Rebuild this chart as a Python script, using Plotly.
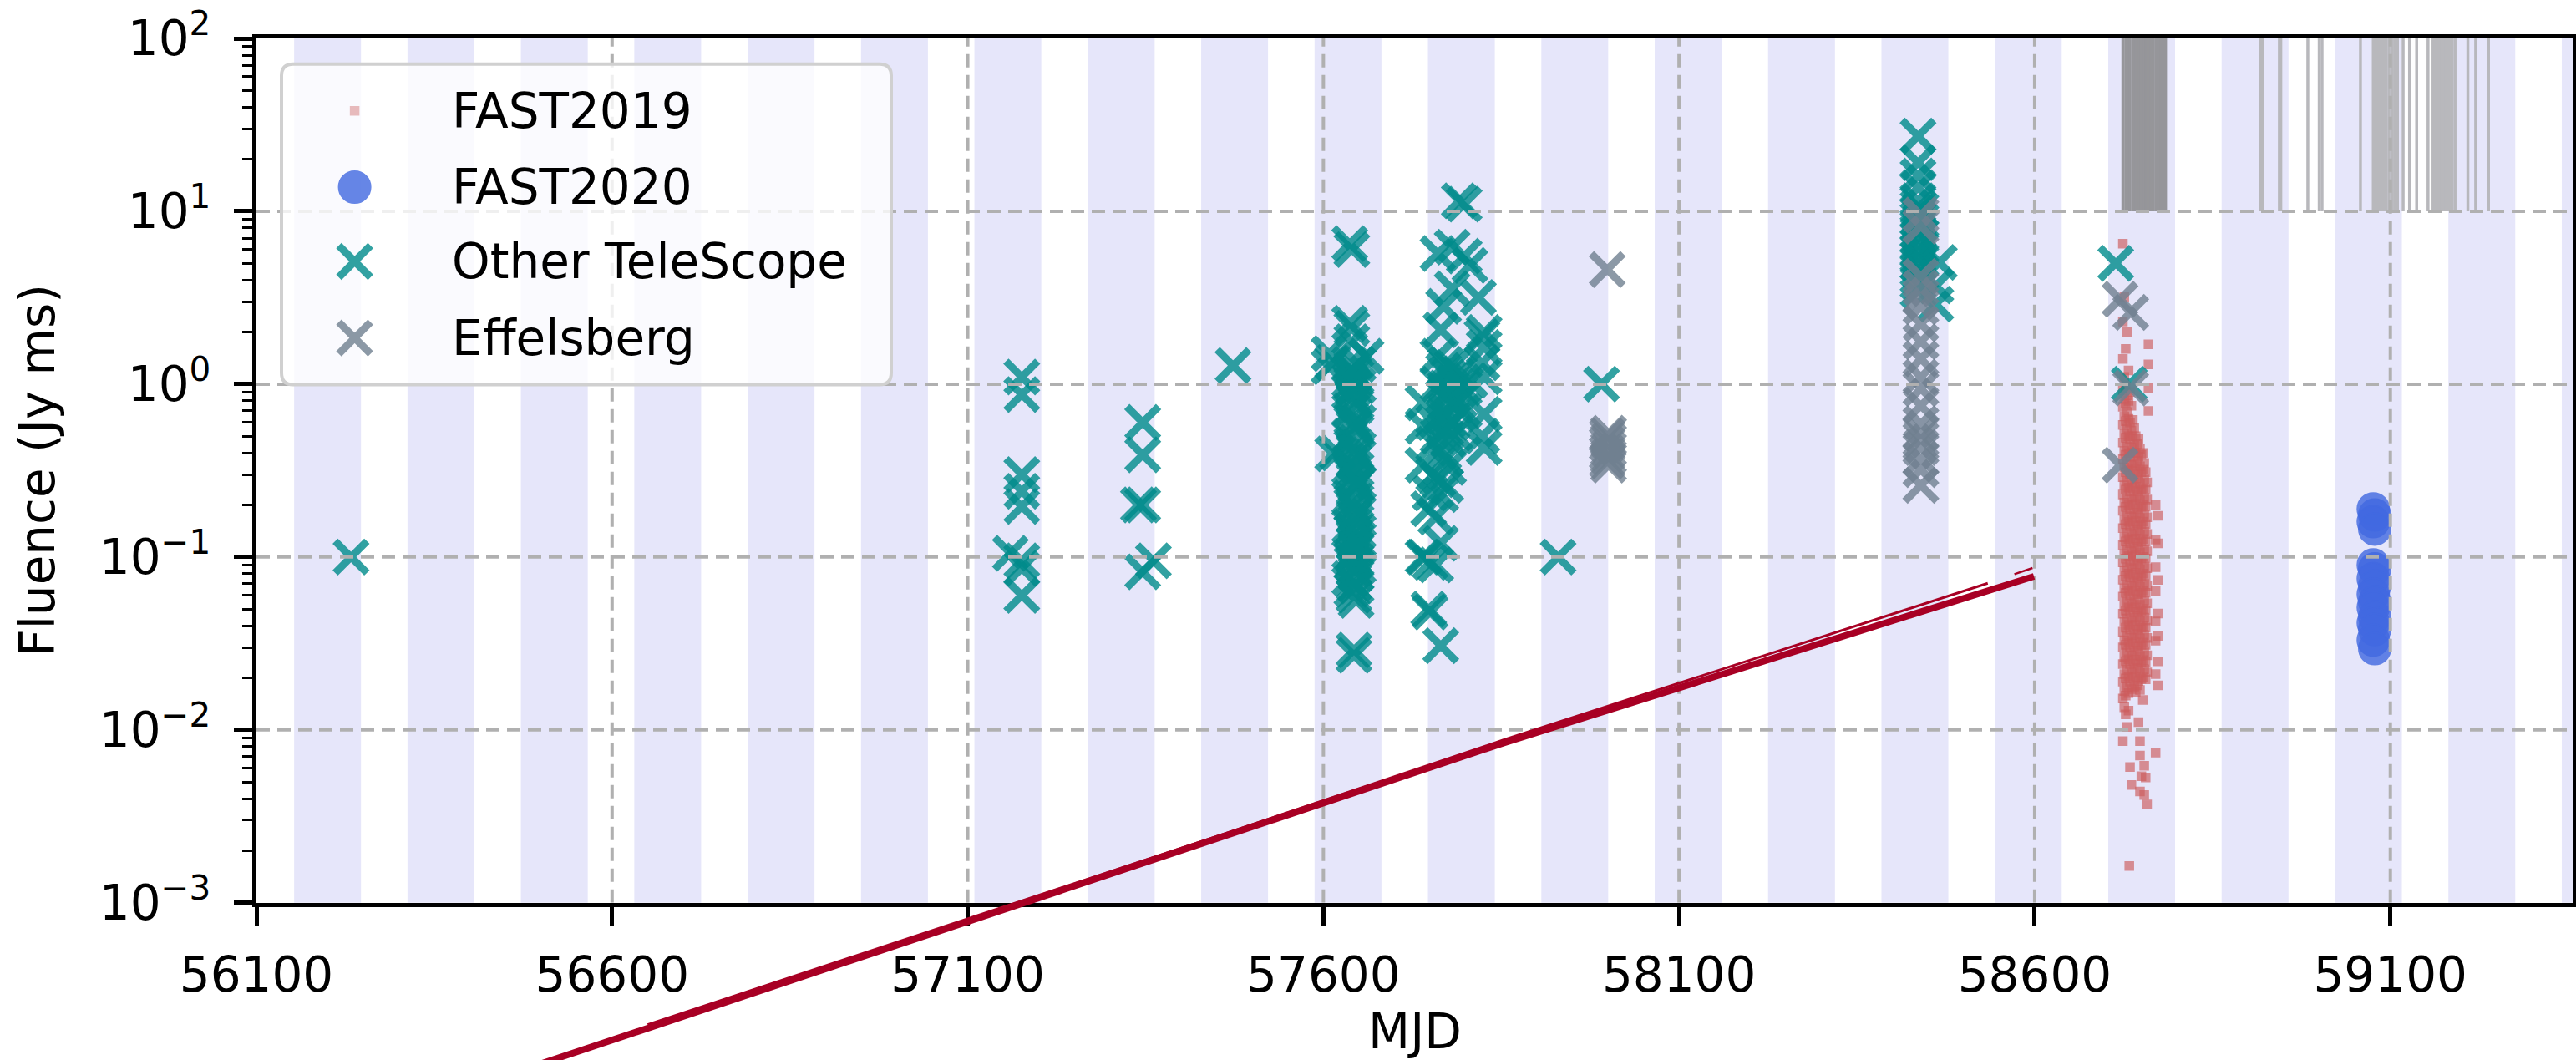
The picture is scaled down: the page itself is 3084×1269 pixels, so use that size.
import plotly.graph_objects as go

# ------------------------------------------------------------------ data
x_tick_values = [56100, 56600, 57100, 57600, 58100, 58600, 59100]
y_tick_exponents = [-3, -2, -1, 0, 1, 2]
mjd_min, mjd_max = 56100, 59357.5

# periodic activity windows (shaded)
window_first_start = 56153.0
window_period = 159.4
window_length = 94.0

# FAST 2019 bursts, grouped per day
fast2019_days = [58724, 58726, 58728, 58730, 58732, 58733, 58734, 58736, 58738, 58740,
                 58742, 58744, 58746, 58748, 58750, 58752, 58754, 58756, 58758, 58760,
                 58770, 58773]
fast2019_fluence_by_day = [
    [6.5, 2.3, 1.4, 0.92, 0.74, 0.58, 0.46, 0.37, 0.29, 0.23, 0.185, 0.147, 0.117, 0.093, 0.074, 0.059, 0.047, 0.037, 0.03, 0.024, 0.019, 0.0152, 0.0086],
    [3.2, 1.1, 0.82, 0.65, 0.52, 0.41, 0.33, 0.26, 0.206, 0.164, 0.13, 0.104, 0.083, 0.066, 0.052, 0.042, 0.033, 0.0265, 0.021, 0.0168, 0.0135],
    [1.6, 0.97, 0.77, 0.61, 0.49, 0.39, 0.31, 0.245, 0.195, 0.155, 0.123, 0.098, 0.078, 0.062, 0.049, 0.039, 0.031, 0.025, 0.0198, 0.0158, 0.0123],
    [2.0, 0.86, 0.69, 0.55, 0.435, 0.345, 0.275, 0.218, 0.173, 0.138, 0.11, 0.087, 0.069, 0.055, 0.044, 0.035, 0.028, 0.0222, 0.0177, 0.0104],
    [1.2, 0.8, 0.63, 0.5, 0.4, 0.32, 0.252, 0.2, 0.16, 0.127, 0.101, 0.08, 0.064, 0.051, 0.0405, 0.032, 0.0256, 0.0204, 0.0163, 0.0129],
    [0.00163],
    [0.9, 0.6, 0.48, 0.38, 0.3, 0.24, 0.19, 0.151, 0.12, 0.095, 0.076, 0.06, 0.048, 0.038, 0.03, 0.024, 0.019, 0.0061],
    [0.75, 0.54, 0.43, 0.34, 0.27, 0.215, 0.171, 0.136, 0.108, 0.086, 0.068, 0.054, 0.043, 0.034, 0.027, 0.0215, 0.0172, 0.0048],
    [0.62, 0.5, 0.4, 0.315, 0.25, 0.2, 0.158, 0.126, 0.1, 0.079, 0.063, 0.05, 0.04, 0.0315, 0.025, 0.02],
    [0.56, 0.44, 0.35, 0.28, 0.222, 0.177, 0.14, 0.112, 0.089, 0.071, 0.056, 0.0445, 0.0355, 0.028, 0.0225, 0.0178],
    [0.5, 0.4, 0.32, 0.255, 0.203, 0.161, 0.128, 0.102, 0.081, 0.064, 0.051, 0.0405, 0.032, 0.0255, 0.0203, 0.0165],
    [0.45, 0.36, 0.285, 0.227, 0.18, 0.143, 0.114, 0.091, 0.072, 0.057, 0.0455, 0.036, 0.0287, 0.0228, 0.0181],
    [0.48, 0.38, 0.3, 0.24, 0.19, 0.152, 0.121, 0.096, 0.076, 0.061, 0.048, 0.038, 0.0305, 0.0242, 0.0192, 0.0111],
    [0.42, 0.335, 0.266, 0.212, 0.168, 0.134, 0.106, 0.085, 0.067, 0.053, 0.0425, 0.0338, 0.0268, 0.0213, 0.017, 0.0086, 0.0071, 0.0044],
    [0.39, 0.31, 0.245, 0.195, 0.155, 0.123, 0.098, 0.078, 0.062, 0.049, 0.039, 0.031, 0.0248, 0.0197, 0.0054],
    [0.4, 0.32, 0.25, 0.2, 0.16, 0.127, 0.1, 0.08, 0.064, 0.05, 0.04, 0.032, 0.0253, 0.0201, 0.0149],
    [0.35, 0.28, 0.22, 0.176, 0.14, 0.111, 0.088, 0.07, 0.056, 0.0445, 0.0354, 0.0281, 0.0224, 0.0062, 0.0042],
    [0.31, 0.245, 0.195, 0.155, 0.123, 0.098, 0.078, 0.062, 0.049, 0.039, 0.031, 0.0247, 0.0196, 0.0053],
    [0.27, 0.215, 0.17, 0.136, 0.108, 0.086, 0.068, 0.054, 0.043, 0.034, 0.027, 0.0215, 0.0037],
    [1.7, 1.3, 0.95, 0.7],
    [0.2, 0.126, 0.0874, 0.0635, 0.0424, 0.0328, 0.021, 0.00738],
    [0.173, 0.12, 0.0737, 0.0471, 0.035, 0.0249, 0.0181],
]

# FAST 2020 bursts
fast2020_mjd = [59076, 59078, 59076, 59078, 59076, 59078, 59076, 59078,
                59076, 59078, 59076, 59078, 59076, 59078, 59076, 59078]
fast2020_fluence = [0.19, 0.175, 0.16, 0.145, 0.09, 0.0855, 0.075, 0.068,
                    0.061, 0.055, 0.051, 0.045, 0.0415, 0.038, 0.033, 0.0295]

# other telescopes, grouped per day
other_days = [56233, 57160, 57176, 57340, 57346, 57361, 57473,
              57608, 57613, 57620, 57637, 57640, 57643, 57646, 57649, 57660,
              57740, 57742, 57748, 57750, 57755, 57758, 57761, 57765, 57769, 57772,
              57776, 57781, 57785, 57791, 57798, 57806, 57818, 57823, 57826,
              57930, 57991, 58436, 58440, 58461, 58466, 58714, 58733]
other_fluence_by_day = [
    [0.1],
    [0.105],
    [1.1, 0.87, 0.3, 0.24, 0.196, 0.095, 0.086, 0.06],
    [0.2],
    [0.6, 0.39, 0.2, 0.082],
    [0.095],
    [1.28],
    [1.5, 1.26],
    [1.33, 0.395],
    [0.4],
    [6.5, 2.25, 1.3, 1.05, 0.9, 0.7, 0.5, 0.33, 0.22, 0.15, 0.1, 0.075],
    [6.0, 2.1, 1.76, 1.2, 1.0, 0.85, 0.62, 0.45, 0.3, 0.2, 0.14, 0.092, 0.065],
    [1.15, 0.95, 0.8, 0.58, 0.42, 0.36, 0.28, 0.25, 0.19, 0.17, 0.13, 0.12, 0.105, 0.085, 0.07, 0.06, 0.029, 0.027],
    [1.1, 0.75, 0.55, 0.4, 0.32, 0.26, 0.21, 0.16, 0.125, 0.11, 0.095, 0.08, 0.068, 0.056],
    [1.3, 0.98, 0.6, 0.38, 0.27, 0.18, 0.14, 0.115, 0.088],
    [1.45],
    [0.78, 0.57, 0.34, 0.1],
    [0.1],
    [0.19, 0.05],
    [0.234, 0.093, 0.048],
    [0.6, 0.45, 0.3],
    [0.17, 0.09],
    [5.7, 1.45, 1.0, 0.5, 0.28],
    [2.06, 0.23, 0.12, 0.0307],
    [2.82, 1.2, 0.85, 0.65, 0.4],
    [1.3, 0.95, 0.7, 0.55, 0.37, 0.26],
    [1.1, 0.8, 0.62, 0.48, 0.33],
    [6.2, 3.56, 1.25, 0.9, 0.6],
    [1.0, 0.75, 0.52],
    [11.5, 1.15, 0.8],
    [11.0, 5.5, 0.95, 0.7],
    [4.86, 1.05],
    [3.17],
    [1.88, 1.33, 0.5],
    [1.99, 1.63, 1.1, 0.67, 0.43],
    [0.1],
    [1.0],
    [27.2, 19.1, 16.0, 13.7, 11.5, 10.5, 9.8, 9.0, 8.3, 7.6, 7.0, 6.4, 5.9, 5.4, 5.0, 4.6, 4.2, 3.9, 3.5],
    [10.2, 8.8, 7.2, 6.0, 5.2, 4.4],
    [3.7, 2.9],
    [5.06],
    [5.0],
    [1.0],
]

# Effelsberg, grouped per day
effelsberg_days = [57999, 58001, 58440, 58720, 58735]
effelsberg_fluence_by_day = [
    [4.6, 0.5, 0.45, 0.4, 0.36],
    [0.52, 0.47, 0.42, 0.38, 0.34],
    [9.5, 8.2, 4.2, 3.6, 3.2, 2.8, 2.23, 1.76, 1.4, 1.1, 0.94, 0.75, 0.59, 0.52, 0.48, 0.43, 0.37, 0.32, 0.26],
    [3.1, 0.34],
    [2.6, 0.95],
]

# FAST observing days (vertical markers in the top decade)
fast2019_obs_days = [58724, 58728, 58732, 58734, 58738, 58740, 58741, 58742, 58743, 58744,
                     58745, 58746, 58747, 58748, 58749, 58750, 58751, 58752, 58753, 58754,
                     58755, 58756, 58757, 58758, 58759, 58760, 58761, 58762, 58763, 58764,
                     58765, 58767, 58771, 58775, 58778, 58781, 58784]
fast2020_obs_days = [58917, 58920, 58944, 58946, 58984, 59000, 59004, 59058, 59076, 59078,
                     59080, 59082, 59084, 59086, 59088, 59090, 59092, 59094, 59098, 59102,
                     59106, 59110, 59118, 59127, 59137, 59153, 59160, 59163, 59166, 59169,
                     59172, 59175, 59178, 59181, 59184, 59187, 59191, 59209, 59220, 59238]
obs_marker_range = [10, 100]

# dark red trend strands
trend_main_mjd = [56500, 57466.5, 57853.4, 58599]
trend_main_fluence = [1.17e-4, 2.45e-3, 8.4e-3, 0.0773]
trend_upper_mjd = [56650, 57466.5, 57853.4, 58534]
trend_upper_fluence = [1.97e-4, 2.55e-3, 8.75e-3, 0.0705]
trend_tip_mjd = [58571.5, 58597]
trend_tip_fluence = [0.0796, 0.0863]

series_names = ["FAST2019", "FAST2020", "Other TeleScope", "Effelsberg"]

assert len(other_days) == len(other_fluence_by_day)
assert len(fast2019_days) == len(fast2019_fluence_by_day)
assert len(effelsberg_days) == len(effelsberg_fluence_by_day)


def expand(days, groups):
    xs, ys = [], []
    for d, vals in zip(days, groups):
        for v in vals:
            xs.append(d)
            ys.append(v)
    return xs, ys


def vlines(days, lo, hi):
    xs, ys = [], []
    for d in days:
        xs += [d, d, None]
        ys += [lo, hi, None]
    return xs, ys


# ------------------------------------------------------------------ geometry
W, H = 3084, 1269
ML, MR, MT, MB = 307, 3, 46, 0
plot_w = W - ML - MR
plot_h = H - MT - MB
axis_bottom_px = 1080.7
d0 = (H - axis_bottom_px) / plot_h            # main y-domain start
y2_low = -3 - d0 / (1 - d0) * 5               # extended log range to the page bottom

FONT = "DejaVu Sans"
FS = 58

m2019 = dict(symbol="square", size=10, color="indianred", opacity=0.65,
             line=dict(width=1.5, color="indianred"))
m2019_legend = dict(symbol="square", size=10, color="indianred", opacity=0.4,
                    line=dict(width=1.5, color="indianred"))
m2020 = dict(symbol="circle", size=38, color="royalblue", opacity=0.8,
             line=dict(width=2, color="royalblue"))
m_other = dict(symbol="x-thin", size=38, color="darkcyan", opacity=0.8,
               line=dict(width=9, color="darkcyan"))
m_eff = dict(symbol="x-thin", size=38, color="slategray", opacity=0.8,
             line=dict(width=9, color="slategray"))

fig = go.Figure()

# observing-day markers
ox, oy = vlines(fast2019_obs_days, *obs_marker_range)
fig.add_trace(go.Scatter(x=ox, y=oy, mode="lines", line=dict(color="rgb(150,150,154)", width=3.5),
                         hoverinfo="skip", xaxis="x", yaxis="y"))
ox, oy = vlines(fast2020_obs_days, *obs_marker_range)
fig.add_trace(go.Scatter(x=ox, y=oy, mode="lines", line=dict(color="rgb(184,184,188)", width=3.5),
                         hoverinfo="skip", xaxis="x", yaxis="y"))

fx, fy = expand(fast2019_days, fast2019_fluence_by_day)
fig.add_trace(go.Scatter(x=fx, y=fy, mode="markers", marker=m2019, name=series_names[0]))
fig.add_trace(go.Scatter(x=fast2020_mjd, y=fast2020_fluence, mode="markers", marker=m2020,
                         name=series_names[1]))
tx, ty = expand(other_days, other_fluence_by_day)
fig.add_trace(go.Scatter(x=tx, y=ty, mode="markers", marker=m_other, name=series_names[2]))
ex, ey = expand(effelsberg_days, effelsberg_fluence_by_day)
fig.add_trace(go.Scatter(x=ex, y=ey, mode="markers", marker=m_eff, name=series_names[3]))

# dashed grid drawn above the data (as in the reference)
gx, gy = [], []
for v in x_tick_values[1:]:
    gx += [v, v, None]
    gy += [10.0 ** y_tick_exponents[0], 10.0 ** y_tick_exponents[-1], None]
for e in y_tick_exponents[1:-1]:
    gx += [mjd_min, mjd_max, None]
    gy += [10.0 ** e, 10.0 ** e, None]
fig.add_trace(go.Scatter(x=gx, y=gy, mode="lines",
                         line=dict(color="#b0b0b0", width=4, dash="16px,9px"), hoverinfo="skip"))

# trend strands on an extended, hidden axis pair (so they run past the frame)
red = "rgb(168,0,36)"
fig.add_trace(go.Scatter(x=trend_main_mjd, y=trend_main_fluence, mode="lines",
                         line=dict(color=red, width=8), xaxis="x2", yaxis="y2"))
fig.add_trace(go.Scatter(x=trend_upper_mjd, y=trend_upper_fluence, mode="lines",
                         line=dict(color=red, width=3), xaxis="x2", yaxis="y2"))
fig.add_trace(go.Scatter(x=trend_tip_mjd, y=trend_tip_fluence, mode="lines",
                         line=dict(color=red, width=2.5), xaxis="x2", yaxis="y2"))

# ------------------------------------------------------------------ legend (own hidden axes)
leg_x0, leg_x1 = 327, 1077
leg_y0, leg_y1 = 66.8, 470.6
leg_w, leg_h = leg_x1 - leg_x0, leg_y1 - leg_y0
leg_rows = [66, 157.2, 246.2, 337.8]
leg_marker_x = 97.6
leg_text_x = 212
for name, mk, ry in zip(series_names, [m2019_legend, m2020, m_other, m_eff], leg_rows):
    fig.add_trace(go.Scatter(x=[leg_marker_x], y=[ry], mode="markers", marker=mk,
                             xaxis="x3", yaxis="y3", hoverinfo="skip"))
    fig.add_annotation(x=leg_text_x, y=ry, xref="x3", yref="y3", text=name, showarrow=False,
                       xanchor="left", yanchor="middle", font=dict(family=FONT, size=FS, color="black"))

r = 14
bx0, bx1, by0, by1 = 10, leg_w - 10, 10, leg_h - 10
frame_path = (f"M{bx0 + r},{by0} L{bx1 - r},{by0} Q{bx1},{by0} {bx1},{by0 + r} "
              f"L{bx1},{by1 - r} Q{bx1},{by1} {bx1 - r},{by1} L{bx0 + r},{by1} "
              f"Q{bx0},{by1} {bx0},{by1 - r} L{bx0},{by0 + r} Q{bx0},{by0} {bx0 + r},{by0} Z")

shapes = []
s = window_first_start
while s < mjd_max:
    shapes.append(dict(type="rect", xref="x", yref="y domain", x0=s, x1=s + window_length,
                       y0=0, y1=1, fillcolor="lavender", line=dict(width=0), layer="below"))
    s += window_period
shapes.append(dict(type="path", path=frame_path, xref="x3", yref="y3", layer="below",
                   fillcolor="rgba(255,255,255,0.8)", line=dict(color="rgb(208,208,208)", width=4)))

minor_vals = [m * 10.0 ** e for e in y_tick_exponents[:-1] for m in range(2, 10)]
sup = {-3: "−3", -2: "−2", -1: "−1", 0: "0", 1: "1", 2: "2"}

fig.update_layout(
    template="none",
    width=W, height=H,
    margin=dict(l=ML, r=MR, t=MT, b=MB, pad=0, autoexpand=False),
    paper_bgcolor="white", plot_bgcolor="rgba(0,0,0,0)",
    showlegend=False,
    font=dict(family=FONT, size=FS, color="black"),
    shapes=shapes,
    xaxis=dict(domain=[0, 1], anchor="y", range=[mjd_min, mjd_max],
               tickmode="array", tickvals=x_tick_values, ticktext=[str(v) for v in x_tick_values],
               ticks="outside", ticklen=22, tickwidth=5, tickcolor="black",
               showline=True, linewidth=5, linecolor="black", mirror=True,
               showgrid=False, zeroline=False, automargin=False, ticklabelstandoff=10,
               tickfont=dict(family=FONT, size=FS, color="black"),
               title=dict(text="MJD", standoff=12, font=dict(family=FONT, size=FS, color="black"))),
    yaxis=dict(domain=[d0, 1], anchor="x", type="log", range=[-3, 2],
               tickmode="array", tickvals=[10.0 ** e for e in y_tick_exponents],
               ticktext=[f"10<sup>{sup[e]}</sup>" for e in y_tick_exponents],
               ticks="outside", ticklen=22, tickwidth=5, tickcolor="black",
               minor=dict(tickmode="array", tickvals=minor_vals, ticks="outside",
                          ticklen=12, tickwidth=3.3, tickcolor="black", showgrid=False),
               showline=True, linewidth=5, linecolor="black", mirror=True,
               showgrid=False, zeroline=False, automargin=False, ticklabelstandoff=16,
               tickfont=dict(family=FONT, size=FS, color="black"),
               title=dict(text="Fluence (Jy ms)", standoff=36,
                          font=dict(family=FONT, size=FS, color="black"))),
    xaxis2=dict(domain=[0, 1], anchor="y2", range=[mjd_min, mjd_max], visible=False,
                showgrid=False, zeroline=False),
    yaxis2=dict(domain=[0, 1], anchor="x2", type="log", range=[y2_low, 2], visible=False,
                showgrid=False, zeroline=False),
    xaxis3=dict(domain=[(leg_x0 - ML) / plot_w, (leg_x1 - ML) / plot_w], anchor="y3",
                range=[0, leg_w], visible=False, showgrid=False, zeroline=False),
    yaxis3=dict(domain=[(H - leg_y1) / plot_h, (H - leg_y0) / plot_h], anchor="x3",
                range=[leg_h, 0], visible=False, showgrid=False, zeroline=False),
)

fig.write_html("out.html")
